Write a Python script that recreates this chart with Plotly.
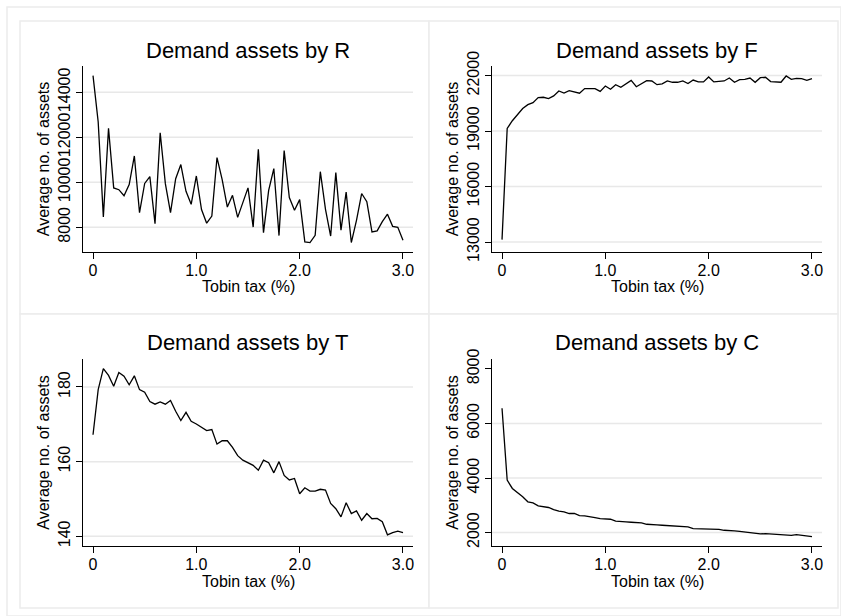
import plotly.graph_objects as go

# Tobin tax grid (%)
tobin_tax = [0.0, 0.05, 0.1, 0.15, 0.2, 0.25, 0.3, 0.35, 0.4, 0.45,
             0.5, 0.55, 0.6, 0.65, 0.7, 0.75, 0.8, 0.85, 0.9, 0.95,
             1.0, 1.05, 1.1, 1.15, 1.2, 1.25, 1.3, 1.35, 1.4, 1.45,
             1.5, 1.55, 1.6, 1.65, 1.7, 1.75, 1.8, 1.85, 1.9, 1.95,
             2.0, 2.05, 2.1, 2.15, 2.2, 2.25, 2.3, 2.35, 2.4, 2.45,
             2.5, 2.55, 2.6, 2.65, 2.7, 2.75, 2.8, 2.85, 2.9, 2.95, 3.0]

demand_R = [14740, 12680, 8460, 12400, 9750, 9670, 9400, 9900, 11170, 8650,
            9950, 10250, 8160, 12200, 9940, 8650, 10160, 10790, 9600, 9020,
            10280, 8790, 8180, 8500, 11100, 10120, 8900, 9420, 8440, 9050,
            9750, 8010, 11470, 7760, 9640, 10610, 7630, 11410, 9320, 8760,
            9230, 7350, 7320, 7640, 10470, 8800, 7610, 10430, 7870, 9560,
            7320, 8310, 9500, 9140, 7790, 7840, 8250, 8580, 8040, 8000, 7420]

demand_F = [13130, 19140, 19560, 19920, 20220, 20430, 20540, 20810, 20830, 20760,
            20900, 21170, 21060, 21190, 21140, 21050, 21300, 21320, 21300, 21150,
            21440, 21260, 21510, 21370, 21550, 21740, 21400, 21570, 21730, 21710,
            21510, 21550, 21710, 21640, 21640, 21710, 21570, 21760, 21660, 21660,
            21930, 21660, 21690, 21710, 21870, 21640, 21780, 21800, 21870, 21640,
            21890, 21910, 21680, 21660, 21640, 21980, 21800, 21850, 21840, 21740, 21840]

demand_T = [167.2, 179.3, 184.9, 183.1, 180.2, 183.9, 182.9, 180.6, 183.0, 179.3,
            178.6, 176.1, 175.4, 176.0, 175.4, 176.4, 173.5, 171.0, 173.2, 170.8,
            170.1, 169.2, 168.3, 168.6, 164.7, 165.6, 165.6, 163.8, 161.6, 160.4,
            159.6, 159.0, 157.7, 160.4, 159.7, 157.0, 160.0, 156.3, 155.1, 155.5,
            151.4, 153.0, 152.1, 152.1, 152.6, 152.4, 148.8, 147.4, 145.2, 149.0,
            146.1, 146.8, 144.3, 146.1, 144.7, 144.8, 143.9, 140.4, 141.0, 141.4, 141.0]

demand_C = [6557, 3923, 3617, 3470, 3310, 3127, 3090, 2980, 2943, 2920,
            2845, 2784, 2760, 2700, 2700, 2625, 2612, 2590, 2550, 2515,
            2490, 2490, 2417, 2417, 2392, 2380, 2367, 2355, 2306, 2282,
            2282, 2270, 2257, 2245, 2233, 2220, 2208, 2147, 2147, 2135,
            2135, 2135, 2122, 2086, 2061, 2061, 2049, 2024, 2024, 2000,
            1951, 1963, 1951, 1939, 1914, 1914, 1902, 1926, 1902, 1890, 1853]

x_ticks = [0, 1, 2, 3]
x_ticklabels = ["0", "1.0", "2.0", "3.0"]

# y ticks and the subset of them that get a grid line (Stata skips the axis maximum in C)
ticks_R, grid_R = [8000, 10000, 12000, 14000], [8000, 10000, 12000, 14000]
ticks_F, grid_F = [13000, 16000, 19000, 22000], [13000, 16000, 19000, 22000]
ticks_T, grid_T = [140, 160, 180], [140, 160, 180]
ticks_C, grid_C = [2000, 4000, 6000, 8000], [2000, 4000, 6000]

panels = [
    # name, series, y ticks, grid, y range, plot box in pixels (x0, x1, ytop, ybottom), frame box
    ("R", demand_R, ticks_R, grid_R, [6900, 15170], (83, 413, 66, 252), (20, 429, 21, 314)),
    ("F", demand_F, ticks_F, grid_F, [12460, 22520], (492, 822, 66, 252), (429, 838, 21, 314)),
    ("T", demand_T, ticks_T, grid_T, [137.4, 187.5], (83, 413, 359, 546), (20, 429, 314, 608)),
    ("C", demand_C, ticks_C, grid_C, [1510, 8358], (492, 822, 359, 546), (429, 838, 314, 608)),
]

W, H = 841, 616
FONT = "Liberation Sans, Arial, sans-serif"
FRAME = "#ececec"

fig = go.Figure()
layout = {}
shapes = []
annotations = []

# outer frame of the combined graph (only top and left edges fall inside the picture)
shapes.append(dict(type="rect", xref="paper", yref="paper", x0=7 / W, x1=1, y0=0, y1=1 - 7 / H,
                   line=dict(color=FRAME, width=1.5), fillcolor="white", layer="below"))

for i, (name, series, yt, grid, yr, box, frame) in enumerate(panels):
    n = "" if i == 0 else str(i + 1)
    px0, px1, pyt, pyb = box
    fx0, fx1, fyt, fyb = frame
    shapes.append(dict(type="rect", xref="paper", yref="paper",
                       x0=fx0 / W, x1=fx1 / W, y0=1 - fyb / H, y1=1 - fyt / H,
                       line=dict(color=FRAME, width=1.5), fillcolor="white", layer="below"))
    for g in grid:
        shapes.append(dict(type="line", xref="x" + n + " domain", yref="y" + n,
                           x0=0, x1=1, y0=g, y1=g, layer="below",
                           line=dict(color="#e8e8e8", width=1.5)))

    fig.add_trace(go.Scatter(x=tobin_tax, y=series, mode="lines", name=name,
                             line=dict(color="black", width=1.3),
                             xaxis="x" + n, yaxis="y" + n, showlegend=False))

    layout["xaxis" + n] = dict(
        domain=[px0 / W, px1 / W], anchor="y" + n, range=[-0.097, 3.097], automargin=False,
        tickvals=x_ticks, ticktext=x_ticklabels, ticks="outside", ticklen=6, tickwidth=1,
        ticklabelstandoff=-2,
        tickcolor="black", showline=True, linecolor="black", linewidth=1, showgrid=False,
        zeroline=False, tickfont=dict(size=16, color="black"),
    )
    layout["yaxis" + n] = dict(
        domain=[1 - pyb / H, 1 - pyt / H], anchor="x" + n, range=yr, automargin=False,
        tickvals=yt, ticktext=[str(v) for v in yt], tickangle=-90, ticks="outside", ticklen=6,
        tickwidth=1, tickcolor="black", showline=True, linecolor="black", linewidth=1,
        showgrid=False, zeroline=False,
        tickfont=dict(size=16, color="black"),
        title=dict(text="Average no. of assets", font=dict(size=16, color="black"), standoff=1),
    )
    annotations.append(dict(text="Demand assets by " + name, xref="paper", yref="paper",
                            x=(px0 + px1) / 2 / W, y=1 - (pyt - 16) / H, xanchor="center",
                            yanchor="middle", showarrow=False, font=dict(size=22, color="black")))
    # x-axis title, placed just under the tick labels
    annotations.append(dict(text="Tobin tax (%)", xref="x" + n + " domain", yref="paper",
                            x=0.5, y=1 - (pyb + 35) / H, xanchor="center", yanchor="middle",
                            showarrow=False, font=dict(size=16, color="black")))

fig.update_layout(
    width=W, height=H, margin=dict(l=0, r=0, t=0, b=0, pad=0),
    paper_bgcolor="white", plot_bgcolor="rgba(0,0,0,0)",
    font=dict(family=FONT, color="black"),
    shapes=shapes, annotations=annotations, showlegend=False,
    **layout,
)

# drop the browser's default 8px body margin so the figure sits at the page origin
fig.write_html("out.html", config={"displayModeBar": False},
               post_script="document.body.style.margin='0';")
